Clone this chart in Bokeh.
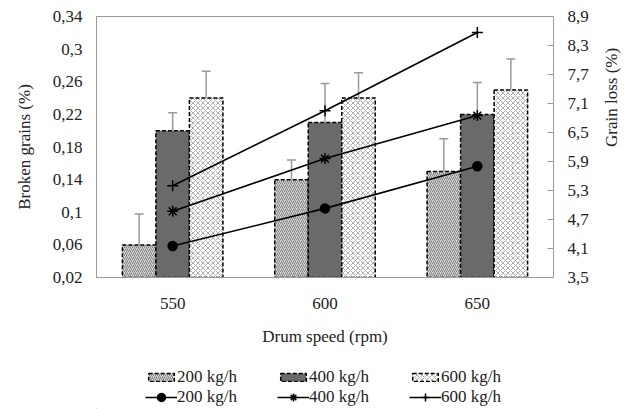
import math
from bokeh.plotting import figure
from bokeh.layouts import column
from bokeh.models import (FactorRange, Range1d, LinearAxis, FixedTicker, CustomJSTickFormatter,
                          ColumnDataSource, Whisker, TeeHead, Legend, LegendItem)
from bokeh.transform import dodge
from bokeh.embed import file_html
from bokeh.resources import INLINE

cats = ["550", "600", "650"]
broken_200 = [0.06, 0.14, 0.15]
broken_400 = [0.20, 0.21, 0.22]
broken_600 = [0.24, 0.24, 0.25]
err_200 = [0.038, 0.024, 0.040]
err_400 = [0.022, 0.048, 0.039]
err_600 = [0.033, 0.031, 0.038]
loss_200 = [4.15, 4.93, 5.80]
loss_400 = [4.87, 5.96, 6.85]
loss_600 = [5.40, 6.95, 8.57]
left_ticks = [0.02, 0.06, 0.1, 0.14, 0.18, 0.22, 0.26, 0.3, 0.34]
right_ticks = [3.5, 4.1, 4.7, 5.3, 5.9, 6.5, 7.1, 7.7, 8.3, 8.9]
series = ["200 kg/h", "400 kg/h", "600 kg/h"]

FONT = "'Liberation Serif', 'Times New Roman', serif"
GRAY = "#9a9a9a"
TXT = "#222222"

p = figure(width=633, height=350, x_range=FactorRange(*cats), y_range=Range1d(0.02, 0.34),
           output_backend="svg", toolbar_location=None,
           min_border_left=96, min_border_right=75, min_border_top=16, min_border_bottom=73)
p.extra_y_ranges = {"loss": Range1d(3.5, 8.9)}
p.xgrid.visible = False
p.ygrid.visible = False
p.outline_line_color = GRAY
p.background_fill_color = "white"

src = ColumnDataSource(dict(
    x=cats, b200=broken_200, b400=broken_400, b600=broken_600,
    u200=[v + e for v, e in zip(broken_200, err_200)],
    u400=[v + e for v, e in zip(broken_400, err_400)],
    u600=[v + e for v, e in zip(broken_600, err_600)],
    l200=loss_200, l400=loss_400, l600=loss_600,
))

W = 0.22
styles = [
    dict(fill_color="#d8d8d8", hatch_pattern="/", hatch_color="#808080", hatch_scale=4, hatch_weight=1),
    dict(fill_color="#6a6a6a"),
    dict(fill_color="white", hatch_pattern="x", hatch_color="#b0b0b0", hatch_scale=5, hatch_weight=1),
]
bar_style = dict(line_color="black", line_dash="4 2", line_width=1.5)
for off, col, up, st in zip([-W, 0, W], ["b200", "b400", "b600"], ["u200", "u400", "u600"], styles):
    w = Whisker(source=src, base=dodge("x", off, range=p.x_range), lower=col, upper=up,
                line_color=GRAY, line_width=1.5, lower_head=None,
                upper_head=TeeHead(size=9, line_color=GRAY, line_width=1.5))
    p.add_layout(w)
    p.vbar(x=dodge("x", off, range=p.x_range), top=col, bottom=0.02, width=W, source=src,
           **bar_style, **st)

markers = [("circle", 9), ("asterisk", 11), ("cross", 11)]
for col, (marker, size) in zip(["l200", "l400", "l600"], markers):
    p.line(x="x", y=col, source=src, y_range_name="loss", line_color="black", line_width=1.6)
    p.scatter(x="x", y=col, source=src, y_range_name="loss", marker=marker, size=size,
              fill_color="black", line_color="black", line_width=1.5)

# axes
yl = p.yaxis[0]
yl.ticker = FixedTicker(ticks=left_ticks)
yl.formatter = CustomJSTickFormatter(code="return String(Math.round(tick*100)/100).replace('.', ',');")
yl.axis_label = "Broken grains (%)"
yl.major_tick_out = 0
yl.major_tick_in = 0
yl.minor_tick_out = 0
yl.minor_tick_in = 0
yl.axis_line_color = GRAY
yl.major_label_standoff = 14
yl.axis_label_standoff = 16

yr = LinearAxis(y_range_name="loss", ticker=FixedTicker(ticks=right_ticks),
                formatter=CustomJSTickFormatter(code="return String(Math.round(tick*10)/10).replace('.', ',');"),
                axis_label="Grain loss (%)")
yr.major_tick_in = 6
yr.major_tick_out = 0
yr.minor_tick_in = 0
yr.minor_tick_out = 0
yr.major_tick_line_color = GRAY
yr.axis_line_color = GRAY
yr.major_label_standoff = 14
yr.axis_label_standoff = 20
try:
    yr.axis_label_orientation = math.pi / 2
except Exception:
    pass
p.add_layout(yr, "right")

xa = p.xaxis[0]
xa.axis_label = "Drum speed (rpm)"
xa.major_tick_line_color = None
xa.axis_line_color = GRAY
xa.major_label_standoff = 14
xa.axis_label_standoff = 15

for ax in (yl, yr, xa):
    ax.major_label_text_font = FONT
    ax.major_label_text_font_size = "17px"
    ax.major_label_text_color = TXT
    ax.axis_label_text_font = FONT
    ax.axis_label_text_font_size = "17px"
    ax.axis_label_text_font_style = "normal"
    ax.axis_label_text_color = TXT

# legend strip below the chart (keys only, drawn by the legends)
q = figure(width=633, height=59, x_range=Range1d(0, 1), y_range=Range1d(0, 1),
           output_backend="svg", toolbar_location=None, x_axis_type=None, y_axis_type=None,
           min_border=0)
q.outline_line_color = None
q.xgrid.visible = False
q.ygrid.visible = False
bar_keys = []
for st in styles:
    bar_keys.append([q.vbar(x=[-5], top=[-5], width=0.1, **bar_style, **st)])
line_keys = []
for marker, size in markers:
    ln = q.line(x=[-6, -5], y=[-5, -5], line_color="black", line_width=1.6)
    sc = q.scatter(x=[-5], y=[-5], marker=marker, size=size, fill_color="black",
                   line_color="black", line_width=1.5)
    line_keys.append([ln, sc])

common = dict(orientation="horizontal", label_standoff=0, label_width=100, glyph_width=32,
              label_height=20, spacing=0, padding=0, margin=0,
              border_line_color=None, background_fill_alpha=0,
              label_text_font=FONT, label_text_font_size="17px", label_text_color=TXT)
leg_bars = Legend(items=[LegendItem(label=s, renderers=r) for s, r in zip(series, bar_keys)],
                  location=(49, 22), glyph_height=10, **common)
leg_lines = Legend(items=[LegendItem(label=s, renderers=r) for s, r in zip(series, line_keys)],
                   location=(49, 2), glyph_height=20, **common)
q.add_layout(leg_bars, "center")
q.add_layout(leg_lines, "center")

open("out.html", "w").write(file_html(column(p, q), INLINE))
